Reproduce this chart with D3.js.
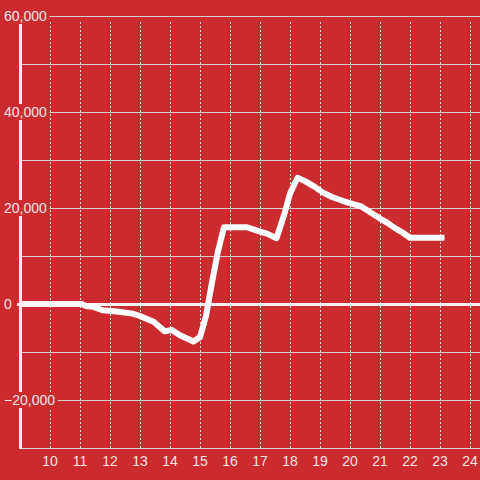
<!DOCTYPE html>
<html>
<head>
<meta charset="utf-8">
<script src="https://cdn.jsdelivr.net/npm/d3@7"></script>
<style>
  html, body { margin: 0; padding: 0; background: #cb2a2f; }
  svg { display: block; font-family: "Liberation Sans", Arial, sans-serif; }
</style>
</head>
<body>
<svg id="chart" width="480" height="480"></svg>
<script>
// hour of day vs running value
const hours = [9, 11.05, 11.2, 11.45, 11.75, 12.3, 12.75, 13.0, 13.45, 13.83, 14.06, 14.33, 14.78, 15.0,
  15.2, 15.4, 15.6, 15.8, 16.55, 16.9, 17.25, 17.55, 17.8, 18.0, 18.25, 18.5, 18.8, 19.1, 19.4,
  19.75, 20.1, 20.35, 20.7, 21.0, 21.25, 21.5, 21.75, 22.0, 23.15];
const values = [0, 0, -400, -600, -1300, -1600, -2000, -2500, -3700, -5700, -5400, -6500, -7800, -6900,
  -2500, 4500, 11000, 16000, 16000, 15300, 14600, 13700, 18500, 23000, 26300, 25600, 24500, 23200, 22300,
  21500, 20800, 20400, 19000, 17800, 16900, 15800, 14900, 13800, 13800];
const xTicks = [10, 11, 12, 13, 14, 15, 16, 17, 18, 19, 20, 21, 22, 23, 24];
const yGrid = [-20000, -10000, 10000, 20000, 30000, 40000, 50000, 60000];
const yLabels = [60000, 40000, 20000, 0, -20000];

const width = 480, height = 480;
const margin = { top: 16, right: 0, bottom: 32, left: 20 };
const svg = d3.select('#chart');

const x = d3.scaleLinear().domain([9, 9 + (width - margin.left) / 30]).range([margin.left, width]);
const y = d3.scaleLinear().domain([-30000, 60000]).range([height - margin.bottom, margin.top]);
const fmt = d3.format(',');

// vertical dashed grid
svg.append('g').selectAll('line').data(xTicks).enter().append('line')
  .attr('x1', d => Math.round(x(d)) + 0.5).attr('x2', d => Math.round(x(d)) + 0.5)
  .attr('y1', y(60000) + 6).attr('y2', y(-30000))
  .attr('stroke', '#e2dede').attr('stroke-width', 1).attr('stroke-dasharray', '2,2');

// horizontal grid
svg.append('g').selectAll('line').data(yGrid).enter().append('line')
  .attr('x1', margin.left).attr('x2', width)
  .attr('y1', d => Math.round(y(d)) + 0.5).attr('y2', d => Math.round(y(d)) + 0.5)
  .attr('stroke', '#d6cfcf').attr('stroke-width', 1);

// bottom axis line
svg.append('line')
  .attr('x1', margin.left).attr('x2', width)
  .attr('y1', y(-30000) + 0.5).attr('y2', y(-30000) + 0.5)
  .attr('stroke', '#d6cfcf').attr('stroke-width', 1);

// left axis line
svg.append('line')
  .attr('x1', margin.left + 0.5).attr('x2', margin.left + 0.5)
  .attr('y1', y(60000)).attr('y2', y(-30000) + 1)
  .attr('stroke', '#f4efef').attr('stroke-width', 3);

// zero line
svg.append('line')
  .attr('x1', margin.left - 3).attr('x2', width)
  .attr('y1', y(0) + 0.5).attr('y2', y(0) + 0.5)
  .attr('stroke', '#f6f2f2').attr('stroke-width', 3);

// data line
const pts = hours.map((h, i) => [h, values[i]]);
const line = d3.line().x(d => x(d[0])).y(d => y(d[1]));
svg.append('path').datum(pts)
  .attr('d', line)
  .attr('fill', 'none')
  .attr('stroke', '#ffffff')
  .attr('stroke-width', 6)
  .attr('stroke-linejoin', 'round')
  .attr('stroke-linecap', 'butt');

// y labels with background patches
const yl = svg.append('g').selectAll('g').data(yLabels).enter().append('g');
const ytext = yl.append('text')
  .attr('x', 4).attr('y', d => y(d)).attr('dy', '0.36em')
  .attr('fill', '#f3e4e4').attr('font-size', 14)
  .text(d => fmt(d));
yl.each(function() {
  const g = d3.select(this);
  const b = g.select('text').node().getBBox();
  g.insert('rect', 'text')
    .attr('x', 0).attr('y', b.y)
    .attr('width', b.x + b.width + 2.5).attr('height', b.height)
    .attr('fill', '#cb2a2f');
});

// x labels
svg.append('g').selectAll('text').data(xTicks).enter().append('text')
  .attr('x', d => x(d)).attr('y', 466)
  .attr('text-anchor', 'middle')
  .attr('fill', '#f3e4e4').attr('font-size', 14)
  .text(d => d);
</script>
</body>
</html>
